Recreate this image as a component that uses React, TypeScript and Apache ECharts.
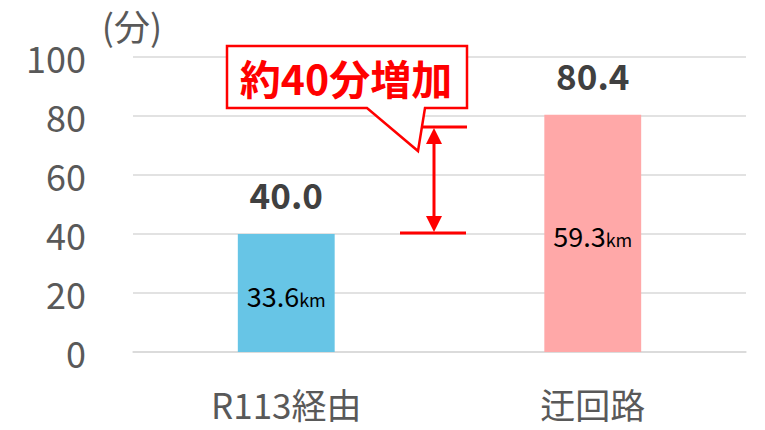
import React, { useEffect, useRef } from "react";
import * as echarts from "echarts";

const categories = ["R113経由", "迂回路"];
const minutes = [40.0, 80.4];
const distances = ["33.6", "59.3"];
const barColors = ["#67C5E6", "#FFA8A8"];
const yTicks = [0, 20, 40, 60, 80, 100];
const annotationText = "約40分増加";
const unitText = "(分)";

const FONT = "'Noto Sans CJK JP', sans-serif";
const RED = "#FF0000";

export default function App() {
  const ref = useRef<HTMLDivElement>(null);
  useEffect(() => {
    if (!ref.current) return;
    const chart = echarts.init(ref.current, null, { renderer: "svg" });
    const option: any = {
      animation: false,
      grid: { left: 133, right: 19, top: 57, bottom: 78 },
      xAxis: {
        type: "category",
        data: categories,
        axisLine: { show: true, lineStyle: { color: "#D9D9D9", width: 1.5 } },
        axisTick: { show: false },
        axisLabel: { color: "#595959", fontSize: 35, fontFamily: FONT, margin: 34 },
      },
      yAxis: {
        type: "value",
        min: yTicks[0],
        max: yTicks[yTicks.length - 1],
        interval: 20,
        axisLine: { show: false },
        axisTick: { show: false },
        splitLine: { lineStyle: { color: "#D9D9D9", width: 1.5 } },
        axisLabel: { color: "#595959", fontSize: 36, fontFamily: FONT, margin: 47 },
      },
      series: [
        {
          type: "bar",
          barWidth: "31.6%",
          barGap: "-100%",
          data: minutes.map((v, i) => ({ value: v, itemStyle: { color: barColors[i] } })),
          label: {
            show: true,
            position: "inside",
            offset: [0, 1],
            formatter: (p: any) => `{a|${distances[p.dataIndex]}}{b|km}`,
            rich: {
              a: { fontSize: 27, color: "#000000", fontFamily: FONT, lineHeight: 30, verticalAlign: "bottom" },
              b: { fontSize: 18, color: "#000000", fontFamily: FONT, lineHeight: 30, verticalAlign: "bottom", padding: [0, 0, 1, 0] },
            },
          },
          z: 2,
        },
        {
          type: "bar",
          barWidth: "31.6%",
          barGap: "-100%",
          data: minutes,
          itemStyle: { color: "transparent" },
          label: {
            show: true,
            position: "top",
            distance: 23,
            formatter: (p: any) => p.value.toFixed(1),
            fontSize: 35,
            fontWeight: "bold",
            color: "#404040",
            fontFamily: FONT,
          },
          z: 3,
        },
      ],
      graphic: [
        {
          type: "text",
          x: 132,
          y: 25,
          style: {
            text: unitText,
            fill: "#595959",
            font: `36px ${FONT}`,
            textAlign: "center",
            textVerticalAlign: "middle",
          },
        },
        // annotation lines
        { type: "line", shape: { x1: 423, y1: 127, x2: 467, y2: 127 }, style: { stroke: RED, lineWidth: 3 }, z: 10 },
        { type: "line", shape: { x1: 400, y1: 233, x2: 466, y2: 233 }, style: { stroke: RED, lineWidth: 3 }, z: 10 },
        { type: "line", shape: { x1: 434, y1: 140, x2: 434, y2: 220 }, style: { stroke: RED, lineWidth: 3 }, z: 10 },
        { type: "polygon", shape: { points: [[434, 128], [426, 144], [442, 144]] }, style: { fill: RED }, z: 10 },
        { type: "polygon", shape: { points: [[434, 232], [426, 216], [442, 216]] }, style: { fill: RED }, z: 10 },
        // callout box
        {
          type: "polygon",
          shape: {
            points: [
              [227, 46], [467, 46], [467, 108], [425, 108], [418, 151], [367, 108], [227, 108],
            ],
          },
          style: { fill: "#FFFFFF", stroke: RED, lineWidth: 2.5, lineJoin: "miter" },
          z: 11,
        },
        {
          type: "text",
          x: 346,
          y: 77,
          style: {
            text: annotationText,
            fill: RED,
            font: `bold 41px ${FONT}`,
            textAlign: "center",
            textVerticalAlign: "middle",
          },
          z: 12,
        },
      ],
    };
    chart.setOption(option);
    return () => chart.dispose();
  }, []);
  return (
    <div
      ref={ref}
      style={{ position: "absolute", left: 0, top: 0, width: 765, height: 430 }}
    />
  );
}
